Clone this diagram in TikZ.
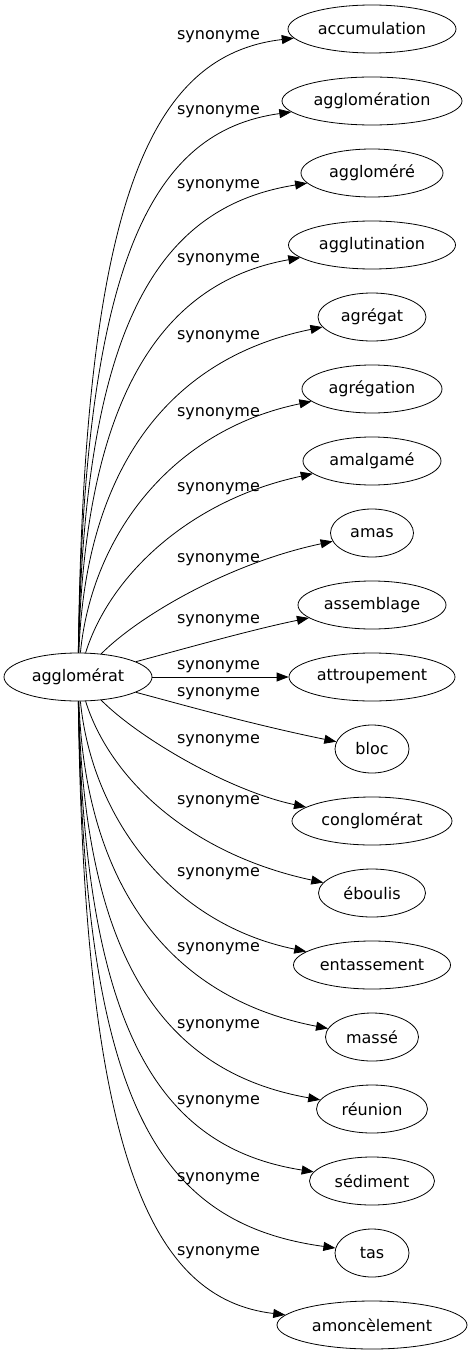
\documentclass[tikz,border=0pt]{standalone}
\usepackage{fontspec}
\setmainfont{DejaVu Sans}
\usetikzlibrary{arrows.meta,shapes.geometric}
\begin{document}
\begin{tikzpicture}[x=1bp,y=-1bp,
  term/.style={ellipse,draw,line width=0.8bp,inner sep=0pt,minimum height=48bp,
    font=\fontsize{16bp}{19bp}\selectfont},
  syn/.style={inner sep=0pt,font=\fontsize{16bp}{19bp}\selectfont},
  rel/.style={line width=0.8bp,-{Triangle[length=12bp,width=9bp]}}]
\useasboundingbox (0,0) rectangle (472,1355);
\node[term,minimum width=148bp] (src) at (78,677) {agglomérat};
\node[term,minimum width=168bp] (t1) at (372,29) {accumulation};
\node[term,minimum width=180bp] (t2) at (372,101) {agglomération};
\node[term,minimum width=142bp] (t3) at (372,173) {aggloméré};
\node[term,minimum width=167bp] (t4) at (372,245) {agglutination};
\node[term,minimum width=108bp] (t5) at (372,317) {agrégat};
\node[term,minimum width=140bp] (t6) at (372,389) {agrégation};
\node[term,minimum width=138bp] (t7) at (372,461) {amalgamé};
\node[term,minimum width=83bp] (t8) at (372,533) {amas};
\node[term,minimum width=148bp] (t9) at (372,605) {assemblage};
\node[term,minimum width=166bp] (t10) at (372,677) {attroupement};
\node[term,minimum width=74bp] (t11) at (372,749) {bloc};
\node[term,minimum width=160bp] (t12) at (372,821) {conglomérat};
\node[term,minimum width=107bp] (t13) at (372,893) {éboulis};
\node[term,minimum width=157bp] (t14) at (372,965) {entassement};
\node[term,minimum width=93bp] (t15) at (372,1037) {massé};
\node[term,minimum width=111bp] (t16) at (372,1109) {réunion};
\node[term,minimum width=125bp] (t17) at (372,1181) {sédiment};
\node[term,minimum width=74bp] (t18) at (372,1253) {tas};
\node[term,minimum width=190bp] (t19) at (372,1325) {amoncèlement};
% labels
\node[syn] (l1) at (218.5,37) {synonyme};
\node[syn] (l2) at (218.5,111.5) {synonyme};
\node[syn] (l3) at (218.5,185.5) {synonyme};
\node[syn] (l4) at (218.5,260) {synonyme};
\node[syn] (l5) at (218.5,336.5) {synonyme};
\node[syn] (l6) at (218.5,414) {synonyme};
\node[syn] (l7) at (218.5,488.5) {synonyme};
\node[syn] (l8) at (218.5,560) {synonyme};
\node[syn] (l9) at (218.5,621) {synonyme};
\node[syn] (l10) at (218.5,666.5) {synonyme};
\node[syn] (l11) at (218.5,694) {synonyme};
\node[syn] (l12) at (218.5,740.5) {synonyme};
\node[syn] (l13) at (218.5,802) {synonyme};
\node[syn] (l14) at (218.5,874) {synonyme};
\node[syn] (l15) at (218.5,949) {synonyme};
\node[syn] (l16) at (218.5,1026) {synonyme};
\node[syn] (l17) at (218.5,1101.5) {synonyme};
\node[syn] (l18) at (218.5,1178.5) {synonyme};
\node[syn] (l19) at (218.5,1252.5) {synonyme};
% edges
\draw[rel] (src) .. controls (84,200) and (150,55) .. (t1);
\draw[rel] (src) .. controls (84,260) and (152,131) .. (t2);
\draw[rel] (src) .. controls (84,330) and (155,207) .. (t3);
\draw[rel] (src) .. controls (84,405) and (157,283) .. (t4);
\draw[rel] (src) .. controls (85,480) and (160,360) .. (t5);
\draw[rel] (src) .. controls (92,535) and (172,430) .. (t6);
\draw[rel] (src) .. controls (110,575) and (190,500) .. (t7);
\draw[rel] (src) .. controls (140,615) and (230,563) .. (t8);
\draw[rel] (src) .. controls (180,650) and (250,630) .. (t9);
\draw[rel] (src) -- (t10);
\draw[rel] (src) .. controls (180,704) and (250,724) .. (t11);
\draw[rel] (src) .. controls (140,739) and (230,791) .. (t12);
\draw[rel] (src) .. controls (110,779) and (190,854) .. (t13);
\draw[rel] (src) .. controls (92,819) and (172,924) .. (t14);
\draw[rel] (src) .. controls (85,874) and (160,996) .. (t15);
\draw[rel] (src) .. controls (84,949) and (157,1071) .. (t16);
\draw[rel] (src) .. controls (84,1024) and (155,1147) .. (t17);
\draw[rel] (src) .. controls (84,1094) and (152,1223) .. (t18);
\draw[rel] (src) .. controls (84,1154) and (150,1299) .. (t19);
\end{tikzpicture}
\end{document}
